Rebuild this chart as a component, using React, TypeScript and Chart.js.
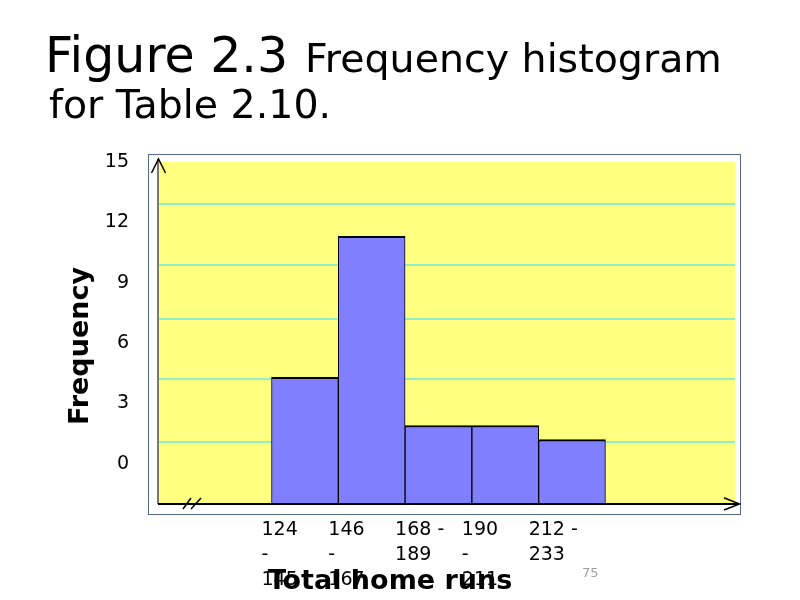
import React, { useEffect, useRef } from "react";
import { Chart, registerables } from "chart.js";

Chart.register(...registerables);

// class intervals (total home runs) and their frequencies
const classLabels = [
  ["124", "-", "145"],
  ["146", "-", "167"],
  ["168 -", "189"],
  ["190", "-", "211"],
  ["212 -", "233"],
];
const frequencies = [4.3, 11.3, 1.9, 1.9, 1.2];
const yTicks = [0, 3, 6, 9, 12, 15];
// the cyan rules in the plot don't sit on the tick labels in the original
const gridLevels = [1.1, 4.2, 7.2, 9.9, 12.9];

const yMin = -2;
const yMax = 15;
const xMin = -2.2;
const xMax = 6.44;
const labelShift = -0.65;

const FONT = "'DejaVu Sans', 'Liberation Sans', sans-serif";

const decor = {
  id: "decor",
  beforeDraw(chart: any) {
    const { ctx, chartArea: a } = chart;
    ctx.save();
    ctx.fillStyle = "#ffff80";
    ctx.fillRect(a.left, a.top, a.right - a.left, a.bottom - a.top);
    ctx.strokeStyle = "#55698f";
    ctx.lineWidth = 1;
    ctx.strokeRect(a.left - 9.5, a.top - 7.5, a.right - a.left + 15, a.bottom - a.top + 18);
    ctx.restore();
  },
  afterDatasetsDraw(chart: any) {
    const { ctx, chartArea: a } = chart;
    ctx.save();
    // y axis
    ctx.strokeStyle = "#7a7a66";
    ctx.lineWidth = 2;
    ctx.beginPath();
    ctx.moveTo(a.left, a.bottom);
    ctx.lineTo(a.left, a.top - 3);
    ctx.stroke();
    ctx.strokeStyle = "#000";
    ctx.lineWidth = 1.5;
    ctx.beginPath();
    ctx.moveTo(a.left - 6.5, a.top + 11);
    ctx.lineTo(a.left + 0.5, a.top - 3);
    ctx.lineTo(a.left + 7.5, a.top + 11);
    ctx.stroke();
    // x axis
    ctx.lineWidth = 2;
    ctx.beginPath();
    ctx.moveTo(a.left, a.bottom);
    ctx.lineTo(a.right + 4, a.bottom);
    ctx.stroke();
    ctx.lineWidth = 1.5;
    ctx.beginPath();
    ctx.moveTo(a.right - 11, a.bottom - 6.3);
    ctx.lineTo(a.right + 4.5, a.bottom);
    ctx.lineTo(a.right - 11, a.bottom + 6);
    ctx.stroke();
    // axis break
    ctx.beginPath();
    ctx.moveTo(a.left + 25, a.bottom + 5);
    ctx.lineTo(a.left + 33, a.bottom - 6);
    ctx.moveTo(a.left + 33, a.bottom + 5);
    ctx.lineTo(a.left + 43, a.bottom - 6);
    ctx.stroke();
    ctx.restore();
  },
  afterDraw(chart: any) {
    const { ctx } = chart;
    ctx.save();
    ctx.fillStyle = "#000";
    ctx.textBaseline = "alphabetic";
    ctx.textAlign = "left";
    ctx.font = `49px ${FONT}`;
    ctx.fillText("Figure 2.3", 45, 72);
    ctx.font = `39.5px ${FONT}`;
    ctx.fillText("Frequency histogram", 305, 72);
    ctx.fillText("for Table 2.10.", 49, 118);

    ctx.font = `bold 27px ${FONT}`;
    ctx.textAlign = "center";
    ctx.textBaseline = "middle";
    ctx.fillText("Total home runs", 390, 582);
    ctx.save();
    ctx.translate(81, 346);
    ctx.rotate(-Math.PI / 2);
    ctx.fillText("Frequency", 0, 0);
    ctx.restore();

    ctx.font = `13px ${FONT}`;
    ctx.fillStyle = "#a0a0a0";
    ctx.textAlign = "left";
    ctx.textBaseline = "alphabetic";
    ctx.fillText("75", 582, 577);
    ctx.restore();
  },
};

const HistogramChart = () => {
  const canvasRef = useRef<HTMLCanvasElement | null>(null);

  useEffect(() => {
    const ctx = canvasRef.current!.getContext("2d")!;
    const chart = new Chart(ctx, {
      type: "bar",
      data: {
        datasets: [
          {
            label: "Frequency",
            data: frequencies.map((f, i) => ({ x: i, y: f })),
            backgroundColor: "#8080ff",
            borderColor: "#000000",
            borderWidth: { top: 2, left: 1, right: 1, bottom: 0 },
            borderSkipped: false,
            barPercentage: 1,
            categoryPercentage: 1,
            base: yMin,
            yAxisID: "y",
          } as any,
        ],
      },
      options: {
        animation: false,
        responsive: false,
        layout: { padding: { left: 0, top: 162, right: 65, bottom: 0 } },
        plugins: {
          legend: { display: false },
          title: { display: false },
          tooltip: { enabled: false },
        },
        scales: {
          x: {
            type: "linear",
            min: xMin,
            max: xMax,
            offset: false,
            grid: { display: false, drawTicks: false },
            border: { display: false },
            afterBuildTicks: (axis: any) => {
              axis.ticks = classLabels.map((_, i) => ({ value: i + labelShift }));
            },
            afterFit: (axis: any) => {
              axis.height = 96;
            },
            ticks: {
              autoSkip: false,
              maxRotation: 0,
              minRotation: 0,
              align: "start",
              padding: 14,
              color: "#000",
              font: { family: FONT, size: 19, lineHeight: 1.3 },
              callback: (_v: any, i: number) => classLabels[i],
            },
          },
          y: {
            type: "linear",
            position: "left",
            min: yMin,
            max: yMax,
            grid: { display: false, drawTicks: false },
            border: { display: false },
            afterBuildTicks: (axis: any) => {
              axis.ticks = yTicks.map((v) => ({ value: v }));
            },
            afterFit: (axis: any) => {
              axis.width = 158;
            },
            ticks: {
              padding: 29,
              color: "#000",
              font: { family: FONT, size: 19 },
            },
          },
          y2: {
            type: "linear",
            position: "right",
            min: yMin,
            max: yMax,
            grid: { color: "#90f0c8", lineWidth: 2, drawTicks: false },
            border: { display: false },
            afterBuildTicks: (axis: any) => {
              axis.ticks = gridLevels.map((v) => ({ value: v }));
            },
            afterFit: (axis: any) => {
              axis.width = 0;
            },
            ticks: { display: false },
          },
        },
      } as any,
      plugins: [decor],
    });

    return () => {
      chart.destroy();
    };
  }, []);

  return (
    <div style={{ position: "absolute", left: 0, top: 0, width: 800, height: 600, background: "#fff" }}>
      <canvas ref={canvasRef} width="800" height="600"></canvas>
    </div>
  );
};

export default function App() {
  return <HistogramChart />;
}
